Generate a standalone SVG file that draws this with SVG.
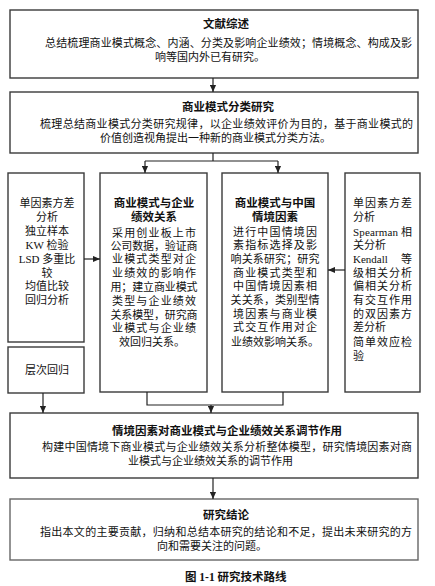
<svg xmlns="http://www.w3.org/2000/svg" width="435" height="586" viewBox="0 0 435 586">
<defs>
<marker id="ah" viewBox="0 0 8 8" refX="8" refY="4" markerWidth="7" markerHeight="7" markerUnits="userSpaceOnUse" orient="auto">
<path d="M0,0.5 L8,4 L0,7.5 z" fill="#222"/>
</marker>
<style>
rect{fill:#fff;stroke:#3a3a3a;stroke-width:1.4}
text{font-family:"Liberation Serif","Noto Sans CJK SC",serif;font-size:11px;fill:#111}
.t{font-weight:bold;font-size:11.5px}
.c{text-anchor:middle}
.cn line,.cn path{stroke:#222;stroke-width:1.2;fill:none}
</style>
</defs>
<rect x="0" y="0" width="435" height="586" style="fill:#fff;stroke:none"/>

<g id="n1">
<rect x="10" y="10" width="408" height="68"/>
<text class="t" x="203" y="28">文献综述</text>
<text x="45" y="47" textLength="367" lengthAdjust="spacing">总结梳理商业模式概念、内涵、分类及影响企业绩效；情境概念、构成及影</text>
<text x="155" y="61">响等国内外已有研究。</text>
</g>

<g id="n2">
<rect x="10" y="92" width="408" height="61"/>
<text class="t" x="182" y="111">商业模式分类研究</text>
<text x="40" y="128" textLength="373" lengthAdjust="spacing">梳理总结商业模式分类研究规律，以企业绩效评价为目的，基于商业模式的</text>
<text x="100" y="142">价值创造视角提出一种新的商业模式分类方法。</text>
</g>

<g id="n3">
<rect x="8" y="173" width="76" height="169"/>
<text class="c" x="47" y="207">单因素方差</text>
<text class="c" x="47" y="221">分析</text>
<text class="c" x="47" y="235">独立样本</text>
<text class="c" x="47" y="249">KW 检验</text>
<text class="c" x="47" y="263">LSD 多重比</text>
<text class="c" x="47" y="277">较</text>
<text class="c" x="47" y="290">均值比较</text>
<text class="c" x="47" y="304">回归分析</text>
</g>

<g id="n4">
<rect x="8" y="347" width="76" height="46"/>
<text class="c" x="47" y="374">层次回归</text>
</g>

<g id="n5">
<rect x="100" y="173" width="107" height="219"/>
<text class="t c" x="154" y="207">商业模式与企业</text>
<text class="t c" x="154" y="221">绩效关系</text>
<text class="c" x="154" y="237" textLength="84" lengthAdjust="spacing">采用创业板上市</text>
<text class="c" x="154" y="250" textLength="87" lengthAdjust="spacing">公司数据，验证商</text>
<text class="c" x="154" y="263" textLength="84" lengthAdjust="spacing">业模式类型对企</text>
<text class="c" x="154" y="277" textLength="84" lengthAdjust="spacing">业绩效的影响作</text>
<text class="c" x="154" y="291" textLength="87" lengthAdjust="spacing">用；建立商业模式</text>
<text class="c" x="154" y="305" textLength="84" lengthAdjust="spacing">类型与企业绩效</text>
<text class="c" x="154" y="319" textLength="87" lengthAdjust="spacing">关系模型，研究商</text>
<text class="c" x="154" y="332" textLength="84" lengthAdjust="spacing">业模式与企业绩</text>
<text class="c" x="152" y="346">效回归关系。</text>
</g>

<g id="n6">
<rect x="222" y="173" width="106" height="219"/>
<text class="t c" x="275" y="207">商业模式与中国</text>
<text class="t c" x="275" y="221">情境因素</text>
<text class="c" x="275" y="236" textLength="84" lengthAdjust="spacing">进行中国情境因</text>
<text class="c" x="275" y="249" textLength="84" lengthAdjust="spacing">素指标选择及影</text>
<text class="c" x="275" y="263" textLength="89" lengthAdjust="spacing">响关系研究；研究</text>
<text class="c" x="275" y="277" textLength="84" lengthAdjust="spacing">商业模式类型和</text>
<text class="c" x="275" y="290" textLength="84" lengthAdjust="spacing">中国情境因素相</text>
<text class="c" x="275" y="304" textLength="89" lengthAdjust="spacing">关关系，类别型情</text>
<text class="c" x="275" y="318" textLength="84" lengthAdjust="spacing">境因素与商业模</text>
<text class="c" x="275" y="331" textLength="84" lengthAdjust="spacing">式交互作用对企</text>
<text class="c" x="275" y="346" textLength="88" lengthAdjust="spacing">业绩效影响关系。</text>
</g>

<g id="n7">
<rect x="345" y="173" width="75" height="219"/>
<text x="353" y="207" textLength="59" lengthAdjust="spacing">单因素方差</text>
<text x="353" y="221">分析</text>
<text x="353" y="236" textLength="59" lengthAdjust="spacing">Spearman 相</text>
<text x="353" y="249">关分析</text>
<text x="353" y="263">Kendall</text>
<text x="401" y="263">等</text>
<text x="353" y="277" textLength="59" lengthAdjust="spacing">级相关分析</text>
<text x="353" y="290" textLength="59" lengthAdjust="spacing">偏相关分析</text>
<text x="353" y="304" textLength="59" lengthAdjust="spacing">有交互作用</text>
<text x="353" y="318" textLength="59" lengthAdjust="spacing">的双因素方</text>
<text x="353" y="331">差分析</text>
<text x="353" y="346" textLength="59" lengthAdjust="spacing">简单效应检</text>
<text x="353" y="360">验</text>
</g>

<g id="n8">
<rect x="10" y="413" width="408" height="65"/>
<text class="t" x="112" y="435">情境因素对商业模式与企业绩效关系调节作用</text>
<text x="42" y="451" textLength="370" lengthAdjust="spacing">构建中国情境下商业模式与企业绩效关系分析整体模型，研究情境因素对商</text>
<text x="128" y="465">业模式与企业绩效关系的调节作用</text>
</g>

<g id="n9">
<rect x="10" y="499" width="408" height="61" style="stroke:#666"/>
<text class="t" x="203" y="519">研究结论</text>
<text x="40" y="536" textLength="372" lengthAdjust="spacing">指出本文的主要贡献，归纳和总结本研究的结论和不足，提出未来研究的方</text>
<text x="157" y="550">向和需要关注的问题。</text>
</g>

<g id="cap">
<text class="t" x="185" y="581">图 1-1 研究技术路线</text>
</g>

<g id="connectors" class="cn">
<line x1="213" y1="78" x2="213" y2="92" marker-end="url(#ah)"/>
<path d="M213,153 V161 M145,161 H278"/>
<line x1="145" y1="161" x2="145" y2="173" marker-end="url(#ah)"/>
<line x1="278" y1="161" x2="278" y2="173" marker-end="url(#ah)"/>
<line x1="84" y1="259" x2="100" y2="259" marker-end="url(#ah)"/>
<line x1="345" y1="270" x2="328" y2="270" marker-end="url(#ah)"/>
<path d="M147,392 V405 H283 V392"/>
<line x1="211" y1="405" x2="211" y2="413" marker-end="url(#ah)"/>
<line x1="43" y1="393" x2="43" y2="413" marker-end="url(#ah)"/>
<line x1="213" y1="478" x2="213" y2="499" marker-end="url(#ah)"/>
</g>
</svg>
